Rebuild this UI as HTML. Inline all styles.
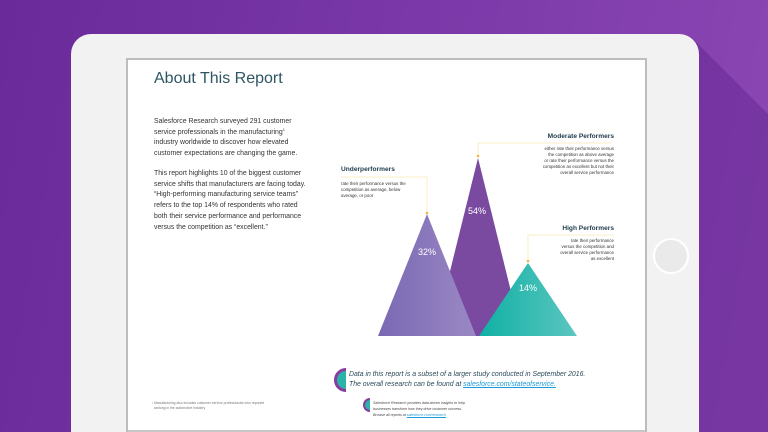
<!DOCTYPE html>
<html><head><meta charset="utf-8"><style>
*{margin:0;padding:0;box-sizing:border-box}
html,body{width:768px;height:432px;overflow:hidden}
body{position:relative;font-family:"Liberation Sans",sans-serif}
#w{position:absolute;left:0;top:0;width:768px;height:432px;overflow:hidden;background:linear-gradient(100deg,#6a2a9a 0%,#7a38a8 50%,#8c48b4 100%)}
.abs{position:absolute}
.t{color:#333;font-size:6.9px;line-height:10.7px;white-space:nowrap}
.t sup{font-size:4px;line-height:0;vertical-align:3px}
.h{color:#1e3a4a;font-weight:bold;font-size:6.6px}
.s{color:#333;font-size:4.4px;line-height:5.9px;white-space:nowrap}
</style></head><body><div id="w">
<svg class="abs" style="left:0;top:0" width="768" height="432">
<polygon points="690,36 768,114 768,432 690,432" fill="#5a1f8a" opacity="0.4"/>
</svg>
<div class="abs" style="left:71px;top:34px;width:628px;height:398px;background:#f2f2f2;border-radius:20px 20px 0 0"></div>
<div class="abs" style="left:126px;top:58px;width:521px;height:374px;background:#fff;border:2px solid #bdbdbd;border-bottom:none"></div>
<div class="abs" style="left:128px;top:430px;width:517px;height:2px;background:#c8c8c8"></div>
<div class="abs" style="left:653px;top:238px;width:36px;height:36px;border-radius:50%;border:2px solid #fff;background:#eaeaea"></div>

<div class="abs" style="left:154px;top:70px;font-size:16px;color:#2d5563;">About This Report</div>
<div class="abs t" style="left:154px;top:117px">Salesforce Research surveyed 291 customer<br>service professionals in the manufacturing<sup>1</sup><br>industry worldwide to discover how elevated<br>customer expectations are changing the game.</div>
<div class="abs t" style="left:154px;top:169px">This report highlights 10 of the biggest customer<br>service shifts that manufacturers are facing today.<br>“High-performing manufacturing service teams”<br>refers to the top 14% of respondents who rated<br>both their service performance and performance<br>versus the competition as “excellent.”</div>

<svg class="abs" style="left:0;top:0" width="768" height="432">
<defs>
<linearGradient id="g1" x1="0" x2="1"><stop offset="0" stop-color="#7a68b4"/><stop offset="1" stop-color="#9a88c4"/></linearGradient>
<linearGradient id="g3" x1="0" x2="1"><stop offset="0" stop-color="#0fb0a4"/><stop offset="1" stop-color="#5cc6c0"/></linearGradient>
<clipPath id="c1"><rect x="320" y="360" width="26" height="40"/></clipPath>
<clipPath id="c2"><rect x="360" y="395" width="10" height="20"/></clipPath>
</defs>
<polygon points="478,158 434,336 522,336" fill="#7a4aa0"/>
<polygon points="427,214 378,336 476,336" fill="url(#g1)"/>
<polygon points="528,263 479,336 577,336" fill="url(#g3)"/>
<g stroke="#fde7b8" stroke-width="0.8" fill="none">
<polyline points="341,177 427,177 427,212"/>
<polyline points="478,156 478,143 612,143"/>
<polyline points="528,260 528,235 614,235"/>
</g>
<g fill="#f5b53a"><circle cx="427" cy="213" r="1.3"/><circle cx="478" cy="156" r="1.3"/><circle cx="528" cy="261" r="1.3"/></g>
<g fill="#fff" font-family="Liberation Sans" font-size="9" text-anchor="middle">
<text x="427" y="255">32%</text><text x="477" y="214">54%</text><text x="528" y="291">14%</text></g>
<g clip-path="url(#c1)"><circle cx="346" cy="380" r="10.5" fill="#2ab3a8" stroke="#8b3aa0" stroke-width="3"/></g>
<g clip-path="url(#c2)"><circle cx="370" cy="405" r="6" fill="#2ab3a8" stroke="#8b3aa0" stroke-width="2"/></g>
</svg>

<div class="abs h" style="left:341px;top:166px">Underperformers</div>
<div class="abs s" style="left:341px;top:181px">rate their performance versus the<br>competition as average, below<br>average, or poor</div>
<div class="abs h" style="left:500px;top:133px;width:114px;text-align:right">Moderate Performers</div>
<div class="abs s" style="left:500px;top:146px;width:114px;text-align:right">either rate their performance versus<br>the competition as above average<br>or rate their performance versus the<br>competition as excellent but not their<br>overall service performance</div>
<div class="abs h" style="left:500px;top:225px;width:114px;text-align:right">High Performers</div>
<div class="abs s" style="left:500px;top:238px;width:114px;text-align:right">rate their performance<br>versus the competition and<br>overall service performance<br>as excellent</div>

<div class="abs" style="left:349px;top:370px;font-size:6.9px;line-height:9.5px;font-style:italic;color:#2a4a5a;white-space:nowrap">Data in this report is a subset of a larger study conducted in September 2016.<br>The overall research can be found at <span style="color:#1a9ad8;text-decoration:underline">salesforce.com/stateofservice.</span></div>
<div class="abs" style="left:373px;top:401px;font-size:3.6px;line-height:5.8px;font-style:italic;color:#444;white-space:nowrap">Salesforce Research provides data-driven insights to help<br>businesses transform how they drive customer success.<br>Browse all reports at <span style="color:#1a9ad8;text-decoration:underline">salesforce.com/research</span></div>
<div class="abs" style="left:152px;top:401px;font-size:3.4px;line-height:5px;color:#777;white-space:nowrap">¹ Manufacturing also includes customer service professionals who reported<br>&nbsp;&nbsp;working in the automotive industry</div>
</div></body></html>
